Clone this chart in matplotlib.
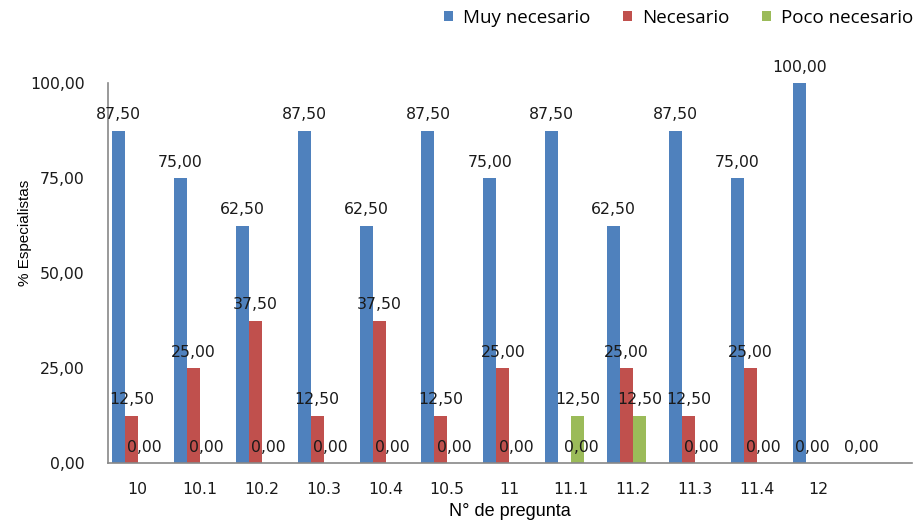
import numpy as np
import matplotlib
matplotlib.use("Agg")
import matplotlib.pyplot as plt

# ********** Data *************************************************************

preguntas = ["10", "10.1", "10.2", "10.3", "10.4", "10.5", "11", "11.1",
             "11.2", "11.3", "11.4", "12"]
muy_necesario = [87.5, 75.0, 62.5, 87.5, 62.5, 87.5, 75.0, 87.5, 62.5, 87.5, 75.0, 100.0]
necesario = [12.5, 25.0, 37.5, 12.5, 37.5, 12.5, 25.0, 0.0, 25.0, 12.5, 25.0, 0.0]
poco_necesario = [0.0, 0.0, 0.0, 0.0, 0.0, 0.0, 0.0, 12.5, 12.5, 0.0, 0.0, 0.0]
series_names = ["Muy necesario", "Necesario", "Poco necesario"]
colors = ["#4F81BD", "#C0504D", "#9BBB59"]
y_ticks = [0, 25, 50, 75, 100]

# label nudges (points) where Excel shifted the zero labels
nudges = {(1, 7): 12, (2, 11): 26}

# ********** Plot *************************************************************

fig = plt.figure(figsize=(9.15, 5.2), dpi=100)
ax = fig.add_axes([108 / 915, 57 / 520, 804 / 915, 380 / 520])

x = np.arange(len(preguntas))
width = 0.21
num_font = dict(family="DejaVu Sans", size=11.3, color="#1a1a1a")

for i, (vals, name, col) in enumerate(zip([muy_necesario, necesario, poco_necesario],
                                          series_names, colors)):
    pos = x + (i - 1) * width
    ax.bar(pos, vals, width, color=col, label=name)
    for j, (px, v) in enumerate(zip(pos, vals)):
        dx = nudges.get((i, j), 0)
        ax.annotate("{:.2f}".format(v).replace(".", ","), (px, v),
                    xytext=(dx, 6), textcoords="offset points",
                    ha="center", va="bottom", **num_font)

ax.set_xlim(-0.38, 12.61)
ax.set_ylim(0, 100)
ax.set_yticks(y_ticks)
ax.set_yticklabels(["{:.2f}".format(t).replace(".", ",") for t in y_ticks], **num_font)
ax.set_xticks(x + 0.1)
ax.set_xticklabels(preguntas, **num_font)
ax.tick_params(axis="y", length=0, pad=17)
ax.tick_params(axis="x", length=0, pad=14)

for s in ["top", "right"]:
    ax.spines[s].set_visible(False)
for s in ["left", "bottom"]:
    ax.spines[s].set_color("#888888")
    ax.spines[s].set_linewidth(1.2)

ax.set_xlabel("N° de pregunta", family="Liberation Sans", size=13)
ax.xaxis.set_label_coords(0.5, -0.105)
ax.set_ylabel("% Especialistas", family="Liberation Sans", size=11)
ax.yaxis.set_label_coords(-0.095, 0.605)

ax.legend(loc="center right", bbox_to_anchor=(0.998, 1 - 18 / 520), bbox_transform=fig.transFigure,
          ncol=3, frameon=False, handlelength=0.45, handleheight=0.45,
          columnspacing=1.75, handletextpad=0.55, borderpad=0, borderaxespad=0,
          prop=dict(family="Open Sans", size=13.5))

fig.savefig("out.png", dpi=100)
